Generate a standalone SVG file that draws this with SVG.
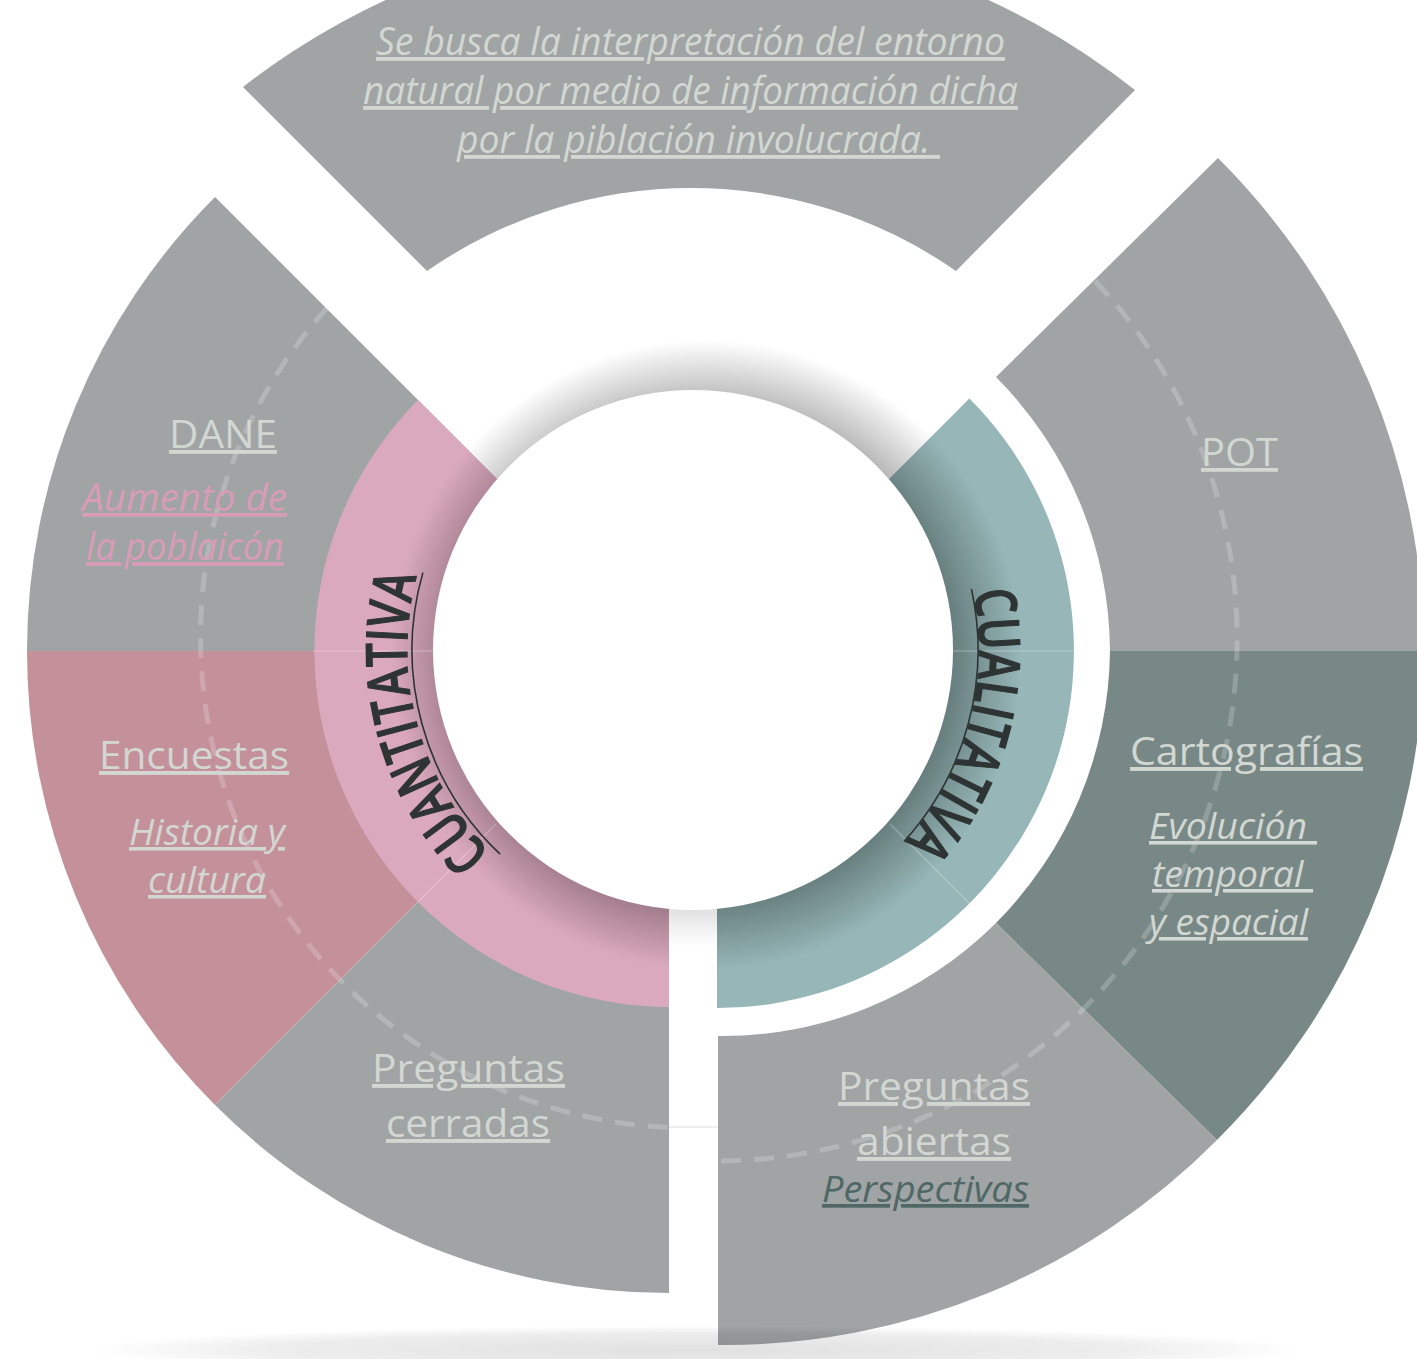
<svg xmlns="http://www.w3.org/2000/svg" width="1417" height="1359" viewBox="0 0 1417 1359">
<defs>
<style>
.seg{fill:#A0A4A4}
.t{font-family:"Open Sans","Noto Sans","DejaVu Sans",sans-serif;fill:#D3D7D2;text-decoration:underline}
.i{font-style:italic}
.dash{fill:none;stroke:#FFFFFF;stroke-opacity:0.2;stroke-width:5;stroke-dasharray:20 13}
.ring{font-family:"Open Sans","Noto Sans","DejaVu Sans",sans-serif;font-size:57px;font-weight:600;fill:#2E3434;stroke:#2E3434;stroke-width:1.3}
.rl{fill:none;stroke:#2E3434;stroke-width:1.6}
.seam{stroke:#FFFFFF;stroke-opacity:0.22;stroke-width:1.5}
</style>
<radialGradient id="floor" cx="0.5" cy="0.5" r="0.5">
<stop offset="0" stop-color="#000" stop-opacity="0.12"/>
<stop offset="0.7" stop-color="#000" stop-opacity="0.07"/>
<stop offset="1" stop-color="#000" stop-opacity="0"/>
</radialGradient>
<radialGradient id="sh" gradientUnits="userSpaceOnUse" cx="706" cy="655" r="315">
<stop offset="0.79" stop-color="#000" stop-opacity="0.3"/>
<stop offset="1" stop-color="#000" stop-opacity="0"/>
</radialGradient>
<linearGradient id="gap" x1="0" y1="0" x2="0" y2="1">
<stop offset="0" stop-color="#D6D6D6"/>
<stop offset="0.45" stop-color="#FFFFFF"/>
<stop offset="1" stop-color="#FFFFFF"/>
</linearGradient>
<path id="pCuan" d="M 490.8,852.2 A 286 286 0 0 1 416.2,577.9"/>
<path id="pCual" d="M 973.1,592 A 286 286 0 0 1 906.9,839.9"/>
</defs>

<g id="top">
<path class="seg" d="M 243,87 A 721 721 0 0 1 1135,90 L 956,271 A 463 463 0 0 0 427,271 Z"/>
</g>
<g id="dane">
<path class="seg" d="M 669,651 L 215,197 A 642 642 0 0 0 27,651 Z"/>
</g>
<g id="encuestas">
<path fill="#C4909A" d="M 669,651 L 27,651 A 642 642 0 0 0 215,1105 Z"/>
</g>
<g id="cerradas">
<path class="seg" d="M 669,651 L 215,1105 A 642 642 0 0 0 669,1293 Z"/>
</g>
<g id="pot">
<path class="seg" d="M 1218,158 A 700 700 0 0 1 1424,651 L 1110,651 A 392 392 0 0 0 996,377 Z"/>
</g>
<g id="cartografias">
<path fill="#788886" d="M 1110,651 L 1424,651 A 700 700 0 0 1 1217,1140 L 996,923 A 392 392 0 0 0 1110,651 Z"/>
</g>
<g id="abiertas">
<path class="seg" d="M 718,1036 L 718,1345 A 694 694 0 0 0 1217,1140 L 996,923 A 388 388 0 0 1 718,1036 Z"/>
</g>

<ellipse cx="696" cy="1350" rx="610" ry="24" fill="url(#floor)"/>

<g id="connectors">
<path class="dash" d="M 328,307 A 491 491 0 0 0 669,1127.5"/>
<path class="dash" d="M 1095,281 A 522 522 0 0 1 718,1161"/>
<line x1="669" y1="1127" x2="718" y2="1127" stroke="#EFEFEF" stroke-width="2"/>
</g>

<g id="cuantitativa">
<path fill="#DBA9BE" d="M 669,651 L 418,400 A 356 356 0 0 0 669,1007 Z"/>
</g>
<g id="cualitativa">
<path fill="#96B6B7" d="M 717,651 L 969.4,398.6 A 357 357 0 0 1 717,1008 Z"/>
</g>
<circle cx="706" cy="655" r="315" fill="url(#sh)"/>
<rect x="669" y="895" width="48" height="115" fill="url(#gap)"/>
<g id="center">
<circle cx="693" cy="650" r="260" fill="#FFFFFF"/>
</g>
<line class="seam" x1="313" y1="651" x2="433" y2="651"/>
<line class="seam" x1="495.8" y1="824.2" x2="417.3" y2="902.7"/>
<line class="seam" x1="953" y1="651" x2="1074" y2="651"/>
<line class="seam" x1="890" y1="824" x2="969.4" y2="903.4"/>

<g id="ring-labels">
<path class="rl" d="M 500.1,854.2 A 281 281 0 0 1 422.9,572.6"/>
<text class="ring"><textPath href="#pCuan" textLength="299" lengthAdjust="spacingAndGlyphs">CUANTITATIVA</textPath></text>
<path class="rl" d="M 971.4,588.8 A 285 285 0 0 1 904.1,841.4"/>
<text class="ring"><textPath href="#pCual" textLength="268" lengthAdjust="spacingAndGlyphs">CUALITATIVA</textPath></text>
</g>

<g id="labels">
<text class="t i" x="376" y="55" font-size="38" textLength="629" lengthAdjust="spacingAndGlyphs">Se busca la interpretación del entorno</text>
<text class="t i" x="363" y="104" font-size="38" textLength="655" lengthAdjust="spacingAndGlyphs">natural por medio de información dicha</text>
<text class="t i" x="457" y="153" font-size="38" textLength="483" lengthAdjust="spacingAndGlyphs" xml:space="preserve">por la piblación involucrada. </text>

<text class="t" x="169" y="448" font-size="38" textLength="108" lengthAdjust="spacingAndGlyphs">DANE</text>
<text class="t i" x="82" y="511" font-size="38" textLength="205" lengthAdjust="spacingAndGlyphs" style="fill:#D99CB7">Aumento de</text>
<text class="t i" x="86" y="560" font-size="38" textLength="198" lengthAdjust="spacingAndGlyphs" style="fill:#D99CB7">la poblaicón</text>

<text class="t" x="99" y="769" font-size="39" textLength="190" lengthAdjust="spacingAndGlyphs">Encuestas</text>
<text class="t i" x="129" y="845" font-size="36" textLength="156" lengthAdjust="spacingAndGlyphs">Historia y</text>
<text class="t i" x="148" y="893" font-size="36" textLength="118" lengthAdjust="spacingAndGlyphs">cultura</text>

<text class="t" x="372" y="1082" font-size="39" textLength="193" lengthAdjust="spacingAndGlyphs">Preguntas</text>
<text class="t" x="386" y="1137" font-size="39" textLength="164" lengthAdjust="spacingAndGlyphs">cerradas</text>

<text class="t" x="1201" y="466" font-size="38" textLength="77" lengthAdjust="spacingAndGlyphs">POT</text>

<text class="t" x="1130" y="765" font-size="39" textLength="233" lengthAdjust="spacingAndGlyphs">Cartografías</text>
<text class="t i" x="1149" y="839" font-size="36" textLength="168" lengthAdjust="spacingAndGlyphs" xml:space="preserve">Evolución </text>
<text class="t i" x="1152" y="887" font-size="36" textLength="161" lengthAdjust="spacingAndGlyphs" xml:space="preserve">temporal </text>
<text class="t i" x="1149" y="935" font-size="36" textLength="159" lengthAdjust="spacingAndGlyphs">y espacial</text>

<text class="t" x="838" y="1100" font-size="39" textLength="192" lengthAdjust="spacingAndGlyphs">Preguntas</text>
<text class="t" x="857" y="1155" font-size="39" textLength="154" lengthAdjust="spacingAndGlyphs">abiertas</text>
<text class="t i" x="822" y="1202" font-size="37" textLength="207" lengthAdjust="spacingAndGlyphs" style="fill:#4F6765">Perspectivas</text>
</g>
</svg>
